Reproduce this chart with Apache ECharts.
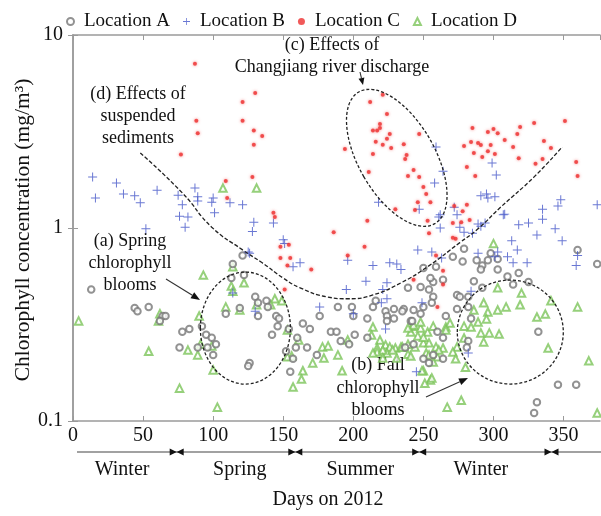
<!DOCTYPE html>
<html><head><meta charset="utf-8">
<script src="https://cdn.jsdelivr.net/npm/echarts@6/dist/echarts.min.js"></script>
<style>html,body{margin:0;padding:0;background:#fff}#c{width:601px;height:516px}</style>
</head><body><div id="c"></div>
<script>
// ---------- data (day of 2012, chlorophyll mg/m3) ----------
const seriesNames = ['Location A','Location B','Location C','Location D'];
const xTickStep = 50;
const xMin = 0, xMax = 376;
const yMin = 0.1, yMax = 10;
const seasonNames = ['Winter','Spring','Summer','Winter'];
const seasonLabelDays = [35, 119, 205, 291];
const seasonBoundDays = [74, 158.6, 247, 341.4];

const locA = [[13,0.48],[44,0.385],[46,0.37],[54,0.39],[64,0.35],[66,0.35],[62,0.33],[78,0.29],[83,0.30],[76,0.24],[89,0.24],[92,0.31],[95,0.28],[99,0.27],[102,0.25],[100,0.22],[96,0.24],[121,0.72],[114,0.65],[113,0.55],[122,0.57],[130,0.44],[119,0.385],[109,0.36],[126,0.20],[125,0.193],[132,0.35],[138,0.42],[139,0.39],[145,0.35],[147,0.34],[146,0.31],[142,0.28],[154,0.30],[160,0.27],[164,0.32],[169,0.30],[159,0.24],[167,0.24],[152,0.23],[157,0.21],[155,0.18],[174,0.22],[184,0.29],[188,0.29],[189,0.39],[200,0.35],[201,0.28],[210,0.34],[210,0.27],[191,0.26],[197,0.25],[214,0.39],[223,0.37],[229,0.38],[224,0.35],[229,0.34],[236,0.38],[243,0.376],[250,0.39],[216,0.42],[239,0.49],[248,0.495],[254,0.48],[257,0.525],[257,0.44],[259,0.63],[250,0.62],[255,0.55],[264,0.54],[271,0.71],[274,0.45],[266,0.35],[237,0.24],[243,0.25],[257,0.22],[250,0.21],[264,0.27],[176,0.35],[199,0.39],[132,0.41],[235,0.37],[224,0.33],[241,0.33],[256,0.41],[242,0.33],[260,0.29],[276,0.44],[282,0.44],[274,0.38],[286,0.53],[292,0.49],[282,0.39],[284,0.34],[282,0.26],[281,0.24],[264,0.21],[254,0.20],[278,0.67],[279,0.78],[288,0.68],[292,0.64],[296,0.68],[298,0.74],[303,0.69],[303,0.61],[291,0.61],[318,0.585],[325,0.525],[310,0.56],[314,0.51],[332,0.29],[346,0.154],[359,0.154],[331,0.125],[329,0.11],[360,0.77],[374,0.65],[248,0.36]];

const locB = [[14,1.84],[31,1.71],[16,1.43],[36,1.5],[44,1.47],[48,1.35],[60,1.57],[75,1.48],[78,1.32],[87,1.61],[89,1.45],[89,1.38],[100,1.43],[99,1.36],[101,1.2],[112,1.35],[121,1.32],[76,1.15],[82,1.14],[80,1.01],[52,0.99],[129,1.07],[128,0.96],[143,1.06],[150,0.87],[151,0.83],[157,0.63],[162,0.66],[125,0.75],[114,0.46],[130,0.37],[176,0.39],[196,0.68],[209,0.53],[195,0.48],[214,0.64],[226,0.66],[231,0.65],[234,0.61],[224,0.52],[221,0.48],[224,0.43],[220,0.41],[200,0.36],[249,0.41],[246,0.77],[256,0.75],[263,0.70],[247,1.25],[262,1.17],[262,1.0],[272,1.28],[274,1.17],[223,0.30],[245,0.18],[126,0.74],[276,1.01],[279,0.95],[285,0.94],[291,1.02],[307,1.17],[318,1.04],[325,1.06],[335,1.11],[344,0.99],[349,0.86],[331,0.92],[313,0.86],[317,0.77],[324,0.66],[310,0.71],[314,0.66],[289,0.74],[303,0.75],[301,0.71],[359,0.64],[284,0.47],[282,0.225],[348,1.4],[259,2.63],[264,1.97],[258,1.71],[299,2.17],[302,1.88],[291,1.47],[295,1.5],[296,1.43],[301,1.45],[308,1.18],[289,1.05],[294,1.06],[346,1.3],[374,1.32],[335,1.25],[360,0.72],[218,1.36],[261,1.14]];

const locC = [[87,7.1],[121,4.5],[130,5.0],[88,3.6],[121,3.6],[89,3.1],[129,3.2],[129,2.7],[77,2.4],[128,1.84],[109,1.75],[110,1.43],[135,3.0],[143,1.2],[144,1.14],[148,0.80],[154,0.82],[148,0.70],[155,0.70],[153,0.64],[170,0.61],[151,0.48],[186,0.95],[210,1.09],[208,0.80],[196,0.72],[194,2.57],[212,4.5],[221,4.9],[224,3.9],[219,3.46],[219,3.3],[217,3.2],[214,3.2],[226,3.07],[224,2.9],[216,2.8],[221,2.7],[227,2.6],[236,2.72],[247,3.07],[214,2.42],[238,2.39],[237,2.28],[243,2.0],[239,1.86],[247,1.84],[211,1.95],[250,1.63],[252,1.5],[246,1.36],[255,1.36],[230,1.25],[244,1.24],[253,1.09],[272,1.3],[271,1.06],[285,3.3],[296,3.14],[300,3.26],[303,3.1],[319,3.34],[329,3.5],[351,3.58],[317,3.07],[308,2.86],[284,2.79],[289,2.76],[279,2.66],[291,2.69],[298,2.69],[314,2.63],[336,2.82],[341,2.6],[286,2.45],[296,2.5],[292,2.33],[301,2.42],[318,2.3],[335,2.28],[330,2.15],[281,2.07],[287,1.86],[359,2.2],[360,1.86],[281,1.32],[278,1.22],[283,1.1],[277,1.07],[254,0.94],[271,0.89],[259,0.72],[264,0.6],[243,0.54],[264,0.51],[260,0.39],[273,0.88]];

const locD = [[107,1.61],[131,1.61],[4,0.33],[93,0.57],[114,0.63],[113,0.50],[114,0.47],[122,0.52],[62,0.36],[61,0.33],[90,0.35],[54,0.23],[82,0.233],[89,0.22],[91,0.25],[99,0.245],[100,0.184],[76,0.148],[103,0.118],[109,0.39],[119,0.376],[131,0.40],[144,0.43],[149,0.42],[141,0.40],[153,0.296],[156,0.217],[153,0.215],[164,0.182],[163,0.165],[157,0.15],[161,0.263],[171,0.20],[178,0.242],[182,0.245],[179,0.212],[189,0.22],[192,0.182],[196,0.263],[214,0.307],[213,0.279],[219,0.263],[223,0.248],[217,0.239],[226,0.242],[230,0.239],[234,0.242],[239,0.25],[246,0.276],[248,0.303],[242,0.31],[253,0.289],[257,0.31],[266,0.307],[269,0.322],[259,0.242],[252,0.225],[260,0.215],[250,0.182],[255,0.163],[231,0.212],[239,0.222],[224,0.225],[217,0.228],[221,0.233],[228,0.233],[214,0.225],[221,0.212],[241,0.289],[250,0.254],[264,0.239],[266,0.296],[256,0.167],[241,0.217],[300,0.83],[303,0.49],[320,0.46],[309,0.39],[303,0.376],[319,0.40],[293,0.41],[296,0.367],[289,0.326],[295,0.338],[286,0.376],[279,0.31],[284,0.307],[291,0.286],[297,0.286],[304,0.282],[293,0.257],[279,0.269],[274,0.242],[271,0.228],[261,0.233],[254,0.254],[250,0.272],[243,0.314],[239,0.303],[248,0.326],[235,0.242],[244,0.242],[254,0.22],[257,0.202],[273,0.21],[280,0.19],[249,0.182],[251,0.157],[267,0.118],[277,0.128],[341,0.42],[337,0.358],[331,0.346],[339,0.239],[360,0.39],[368,0.205],[374,0.11]];

// hand-drawn trend curve (d), in data units
const trendCurve = [[48,2.45],[78,1.52],[99,1.01],[121,0.77],[135,0.66],[150,0.55],[162,0.49],[181,0.44],[196,0.43],[214,0.45],[234,0.52],[253,0.63],[276,0.84],[289,0.99],[305,1.28],[329,1.84],[349,2.63]];

// annotation ellipse centres in data units
const ellipseA = [123, 0.303];
const ellipseB = [312, 0.289];
const ellipseC = [231, 2.31];

// ---------- chart ----------
const FONT = "'Liberation Serif','Times New Roman',serif";
const AX = '#9a9a9a';
const chart = echarts.init(document.getElementById('c'), null, {renderer:'canvas'});

const plusPath = 'path://M4.45,0H5.55V4.45H10V5.55H5.55V10H4.45V5.55H0V4.45H4.45Z';

const option = {
  animation:false,
  backgroundColor:'#fff',
  textStyle:{fontFamily:FONT},
  legend:{
    data:seriesNames, left:61, top:7, itemGap:13, itemWidth:7, itemHeight:7,
    textStyle:{fontFamily:FONT, fontSize:19, color:'#111', padding:[0,0,0,5]},
    selectedMode:false
  },
  grid:{left:73, right:1, top:35, bottom:95, containLabel:false},
  xAxis:[{
    type:'value', min:xMin, max:xMax, interval:xTickStep, position:'bottom',
    axisLine:{show:true, lineStyle:{color:AX, width:1.5}},
    axisTick:{show:true, inside:true, length:5, lineStyle:{color:AX}},
    axisLabel:{show:true, margin:5, fontFamily:FONT, fontSize:20, color:'#111',
      formatter:v => (v % xTickStep === 0 ? String(v) : ''), showMaxLabel:false},
    splitLine:{show:false}
  },{
    type:'value', min:xMin, max:xMax, interval:xTickStep, position:'top',
    axisLine:{show:true, lineStyle:{color:AX, width:1.5}},
    axisTick:{show:true, inside:true, length:5, lineStyle:{color:AX}},
    axisLabel:{show:false}, splitLine:{show:false}
  }],
  yAxis:[{
    type:'log', logBase:10, min:yMin, max:yMax, position:'left',
    axisLine:{show:true, lineStyle:{color:AX, width:1.5}},
    axisTick:{show:true, inside:true, length:5, lineStyle:{color:AX}},
    minorTick:{show:false},
    axisLabel:{show:true, margin:10, fontFamily:FONT, fontSize:20, color:'#111',
      formatter:v => String(+(+v).toPrecision(3))},
    splitLine:{show:false}
  },{
    type:'log', logBase:10, min:yMin, max:yMax, position:'right',
    axisLine:{show:true, lineStyle:{color:AX, width:1.5}},
    axisTick:{show:true, inside:true, length:5, lineStyle:{color:AX}},
    axisLabel:{show:false}, splitLine:{show:false}
  }],
  series:[
    {name:'Location A', type:'scatter', data:locA, symbol:'emptyCircle', symbolSize:6.5,
      itemStyle:{color:'#777', borderColor:'#777', borderWidth:0.9}, z:3},
    {name:'Location B', type:'scatter', data:locB, symbol:plusPath, symbolSize:9,
      itemStyle:{color:'#4455c8'}, z:4},
    {name:'Location C', type:'scatter', data:locC, symbol:'circle', symbolSize:4,
      itemStyle:{color:'#ee3030', shadowBlur:3, shadowColor:'rgba(245,90,90,0.9)'}, z:5},
    {name:'Location D', type:'scatter', data:locD, symbol:'emptyTriangle', symbolSize:7.5,
      itemStyle:{color:'#7cc45a', borderColor:'#7cc45a', borderWidth:0.9}, z:2},
    {name:'trend', type:'line', data:trendCurve, smooth:0.5, showSymbol:false, silent:true,
      lineStyle:{color:'#222', width:1.3, type:[4,2]}, z:6}
  ]
};
chart.setOption(option);

const px = (p) => chart.convertToPixel({xAxisIndex:0, yAxisIndex:0}, p);
const g = [];
function txt(x, y, s, size, opt) {
  g.push(Object.assign({type:'text', x:x, y:y, silent:true,
    style:{text:s, fontFamily:FONT, fontSize:size, fill:'#111', align:'center', verticalAlign:'middle'}}, opt||{}));
}
function ell(c, rx, ry, rot) {
  g.push({type:'ellipse', x:c[0], y:c[1], rotation:rot||0, silent:true,
    shape:{cx:0, cy:0, rx:rx, ry:ry},
    style:{fill:null, stroke:'#222', lineWidth:1.3, lineDash:[3,2]}, z:10});
}
function arrow(x0, y0, x1, y1, len, hw, drawLine) {
  const a = Math.atan2(y1-y0, x1-x0), c = Math.cos(a), s = Math.sin(a);
  const bx = x1 - len*c, by = y1 - len*s;
  if (drawLine !== false) g.push({type:'line', silent:true, shape:{x1:x0, y1:y0, x2:bx, y2:by}, style:{stroke:'#333', lineWidth:1.1}, z:10});
  g.push({type:'polygon', silent:true, shape:{points:[[x1,y1],[bx - hw*s, by + hw*c],[bx + hw*s, by - hw*c]]}, style:{fill:'#111'}, z:10});
}

// ellipses
ell(px(ellipseA), 45, 56, 0);
ell(px(ellipseB), 53, 52, 0);
ell(px(ellipseC), 38, 76, Math.PI/6);

// annotation texts
txt(332, 45, '(c) Effects of', 18);
txt(332, 67, 'Changjiang river discharge', 18);
txt(138, 94, '(d) Effects of', 18);
txt(138, 116, 'suspended', 18);
txt(138, 138, 'sediments', 18);
txt(130, 241, '(a) Spring', 18);
txt(130, 263, 'chlorophyll', 18);
txt(130, 285, 'blooms', 18);
txt(378, 365, '(b) Fall', 18);
txt(378, 388, 'chlorophyll', 18);
txt(378, 410, 'blooms', 18);

// arrows
arrow(166, 279, 200, 300, 9, 3.5);
arrow(426, 397, 468, 378, 9, 3.5);
arrow(360, 72, 363, 85, 7, 3);

// season bar
const yBar = 452;
g.push({type:'line', silent:true, shape:{x1:77, y1:yBar, x2:601, y2:yBar}, style:{stroke:'#444', lineWidth:1.2}});
seasonBoundDays.forEach(d => {
  const xb = px([d, 1])[0];
  g.push({type:'polygon', silent:true, shape:{points:[[xb-7,yBar-3.5],[xb,yBar],[xb-7,yBar+3.5]]}, style:{fill:'#111'}});
  g.push({type:'polygon', silent:true, shape:{points:[[xb+7,yBar-3.5],[xb,yBar],[xb+7,yBar+3.5]]}, style:{fill:'#111'}});
});
seasonNames.forEach((s, i) => txt(px([seasonLabelDays[i], 1])[0], 470, s, 20));

// axis titles
txt(328, 500, 'Days on 2012', 20);
txt(23, 230, 'Chlorophyll concentration (mg/m³)', 21.5, {rotation:Math.PI/2});

chart.setOption({graphic:{elements:g}});
</script>
</body></html>
